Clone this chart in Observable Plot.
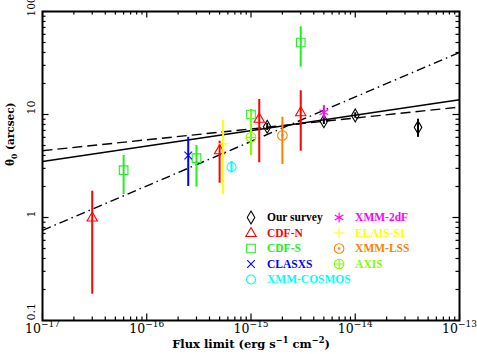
<!DOCTYPE html>
<html><head><meta charset="utf-8">
<script src="https://cdn.jsdelivr.net/npm/d3@7"></script>
<script src="https://cdn.jsdelivr.net/npm/@observablehq/plot@0.6"></script>
<style>html,body{margin:0;padding:0;background:#fff}svg{display:block}</style>
</head><body><div id="chart"></div>
<script>
// ---------- data ----------
const surveys = ["Our survey","CDF-N","CDF-S","CLASXS","XMM-COSMOS","XMM-2dF","ELAIS-S1","XMM-LSS","AXIS"];
const surveyColors = ["#000000","#ff0000","#22ee22","#0000ff","#00ffff","#ff00ff","#ffff00","#ff8000","#80ff00"];
const surveySymbols = ["diamond","triangle","square","xcross","circle","asterisk","plus","circledot","circleplus"];

// measurements: survey, flux limit, theta0, lower, upper
const ptSurvey = ["Our survey","Our survey","Our survey","Our survey",
  "CDF-N","CDF-N","CDF-N","CDF-N",
  "CDF-S","CDF-S","CDF-S","CDF-S",
  "CLASXS","XMM-COSMOS","XMM-2dF","ELAIS-S1","XMM-LSS","AXIS"];
const ptFlux  = [1.43e-15,5e-15,1e-14,4e-14, 3e-17,5e-16,1.2e-15,3e-15, 6e-17,3e-16,1e-15,3e-15, 2.5e-16,6.5e-16,5e-15,5.4e-16,2e-15,1e-15];
const ptTheta = [7.6,8.6,9.8,7.5, 1.0,4.5,9.1,10.5, 2.88,3.77,10,50, 4.0,3.1,10.5,5.2,6.25,6.0];
const ptLo    = [7.0,8.0,9.2,6.0, 0.18,2.15,3.4,4.4, 1.67,1.97,8.6,28.8, 2.0,2.7,9.1,1.67,3.27,4.0];
const ptHi    = [8.2,9.2,10.4,9.0, 1.8,5.5,14,17, 4.0,5.0,11.2,71, 6.0,3.5,12.2,8.75,9.4,10.9];

// fitted relations (values at the two ends of the flux range)
const fitStyle = ["solid","dashed","dashdot"];
const fitFluxStart = [1e-17,1e-17,1e-17];
const fitFluxEnd   = [1e-13,1e-13,1e-13];
const fitThetaStart = [3.5,4.45,0.75];
const fitThetaEnd   = [13.9,11.8,40];

// axes
const xMajor = [1e-17,1e-16,1e-15,1e-14,1e-13];
const xTickLabels = ["10^{−17}","10^{−16}","10^{−15}","10^{−14}","10^{−13}"];
const yMajor = [0.1,1,10,100];
const yTickLabels = ["0.1","1","10","100"];
const xTitle = "Flux limit (erg s^{−1} cm^{−2})";
const yTitle = "θ_{0} (arcsec)";

// ---------- layout ----------
const W = 477, H = 354, mL = 42, mR = 18, mT = 11, mB = 34;
const pw = W - mL - mR, ph = H - mT - mB;

const minorOf = (majors) => {
  const out = [];
  for (let i = 0; i < majors.length - 1; i++) for (let k = 2; k <= 9; k++) out.push(majors[i] * k);
  return out;
};
const xMinor = minorOf(xMajor), yMinor = minorOf(yMajor);

// ---------- symbols ----------
const S = {
  diamond: {draw(c){c.moveTo(0,-6.5);c.lineTo(3.8,0);c.lineTo(0,6.5);c.lineTo(-3.8,0);c.closePath();}},
  triangle: {draw(c){c.moveTo(0,-5.5);c.lineTo(5.2,3.5);c.lineTo(-5.2,3.5);c.closePath();}},
  square: {draw(c){c.rect(-4.3,-4.3,8.6,8.6);}},
  xcross: {draw(c){c.moveTo(-3.8,-3.8);c.lineTo(3.8,3.8);c.moveTo(3.8,-3.8);c.lineTo(-3.8,3.8);}},
  circle: {draw(c){c.moveTo(4.5,0);c.arc(0,0,4.5,0,2*Math.PI);}},
  asterisk: {draw(c){const r=5;for(const a of [90,30,150]){const t=a*Math.PI/180;c.moveTo(r*Math.cos(t),-r*Math.sin(t));c.lineTo(-r*Math.cos(t),r*Math.sin(t));}}},
  plus: {draw(c){c.moveTo(-5.5,0);c.lineTo(5.5,0);c.moveTo(0,-5.5);c.lineTo(0,5.5);}},
  circledot: {draw(c){c.moveTo(4.8,0);c.arc(0,0,4.8,0,2*Math.PI);c.moveTo(0.8,0);c.arc(0,0,0.8,0,2*Math.PI);}},
  circleplus: {draw(c){c.moveTo(4.8,0);c.arc(0,0,4.8,0,2*Math.PI);c.moveTo(-4.8,0);c.lineTo(4.8,0);c.moveTo(0,-4.8);c.lineTo(0,4.8);}}
};
const colorOf = s => surveyColors[surveys.indexOf(s)];
const symOf = s => S[surveySymbols[surveys.indexOf(s)]];

const points = ptSurvey.map((s,i)=>({s, x:ptFlux[i], y:ptTheta[i], lo:ptLo[i], hi:ptHi[i]}));
const fits = fitStyle.map((st,i)=>({st, x1:fitFluxStart[i], x2:fitFluxEnd[i], y1:fitThetaStart[i], y2:fitThetaEnd[i]}));
const dashes = {solid:null, dashed:"10,5", dashdot:"9,4,1.5,4"};

const marks = [];
// fit lines
for (const f of fits) {
  marks.push(Plot.link([f], {x1:"x1", y1:"y1", x2:"x2", y2:"y2", stroke:"black", strokeWidth:1.4,
    strokeDasharray: dashes[f.st]}));
}
// error bars and symbols
for (const s of surveys) {
  const d = points.filter(p=>p.s===s);
  if (!d.length) continue;
  marks.push(Plot.ruleX(d, {x:"x", y1:"lo", y2:"hi", stroke:colorOf(s), strokeWidth:2}));
  marks.push(Plot.dot(d, {x:"x", y:"y", symbol:symOf(s), stroke:colorOf(s), fill:"none", strokeWidth:1.1}));
}
// legend (inside the frame, lower right)
const legX = [1e-15, 7e-15], legY = 1, rowH = 15.5;
surveys.forEach((s,i)=>{
  const col = i < 5 ? 0 : 1, row = i < 5 ? i : i - 5;
  marks.push(Plot.dot([s], {x:()=>legX[col], y:()=>legY, dy:row*rowH, symbol:symOf(s), stroke:colorOf(s), fill:"none", strokeWidth:1.1}));
  marks.push(Plot.text([s], {x:()=>legX[col], y:()=>legY, dx:16, dy:row*rowH, text:d=>d, fill:colorOf(s),
    textAnchor:"start", fontWeight:"bold", fontSize:11.5, fontFamily:"'Liberation Serif', serif"}));
});
// inward ticks on all sides
const tk = (len) => ph - len, tkw = (len) => pw - len;
marks.push(Plot.tickX(xMajor, {x:d=>d, insetTop:tk(6.5), stroke:"black", strokeWidth:1.2}));
marks.push(Plot.tickX(xMinor, {x:d=>d, insetTop:tk(3.5), stroke:"black", strokeWidth:1.2}));
marks.push(Plot.tickX(xMajor, {x:d=>d, insetBottom:tk(6.5), stroke:"black", strokeWidth:1.2}));
marks.push(Plot.tickX(xMinor, {x:d=>d, insetBottom:tk(3.5), stroke:"black", strokeWidth:1.2}));
marks.push(Plot.tickY(yMajor, {y:d=>d, insetRight:tkw(6.5), stroke:"black", strokeWidth:1.2}));
marks.push(Plot.tickY(yMinor, {y:d=>d, insetRight:tkw(3.5), stroke:"black", strokeWidth:1.2}));
marks.push(Plot.tickY(yMajor, {y:d=>d, insetLeft:tkw(6.5), stroke:"black", strokeWidth:1.2}));
marks.push(Plot.tickY(yMinor, {y:d=>d, insetLeft:tkw(3.5), stroke:"black", strokeWidth:1.2}));
marks.push(Plot.frame({stroke:"black", strokeWidth:2}));
// tick labels
marks.push(Plot.text(xMajor, {x:d=>d, text:(d,i)=>xTickLabels[i], frameAnchor:"bottom", dy:12, fontSize:12.5,
  fontFamily:"'DejaVu Serif', serif", fill:"black"}));
const yLab = yMajor.map((v,i)=>({v, t:yTickLabels[i]}));
marks.push(Plot.text(yLab.filter(d=>d.v<100), {y:"v", text:"t", frameAnchor:"left", dx:-11, rotate:-90, fontSize:11,
  fontFamily:"'DejaVu Serif', serif", fill:"black"}));
marks.push(Plot.text(yLab.filter(d=>d.v>=100), {y:"v", text:"t", frameAnchor:"left", dx:-11, dy:5, rotate:-90, fontSize:10.5,
  fontFamily:"'DejaVu Serif', serif", fill:"black"}));
// axis titles
marks.push(Plot.text([xTitle], {text:d=>d, frameAnchor:"bottom", dy:27, fontSize:11.5, fontWeight:"bold",
  fontFamily:"'DejaVu Serif', serif", fill:"black"}));
marks.push(Plot.text([yTitle], {text:d=>d, frameAnchor:"left", dx:-32, rotate:-90, fontSize:10.5, fontWeight:"bold",
  fontFamily:"'DejaVu Serif', serif", fill:"black"}));

const chart = Plot.plot({
  width: W, height: H, marginLeft: mL, marginRight: mR, marginTop: mT, marginBottom: mB,
  x: {type:"log", domain:[1e-17,1e-13], axis:null},
  y: {type:"log", domain:[0.1,100], axis:null},
  style: {background:"#fff", overflow:"visible"},
  marks
});

// render ^{..} and _{..} as super/subscripts
function richify(el){
  const s = el.textContent;
  if (!/[\^_]\{/.test(s)) return;
  const fs = parseFloat(getComputedStyle(el).fontSize) || 12;
  const small = fs * 0.72, sh = fs * 0.42;
  while (el.firstChild) el.removeChild(el.firstChild);
  const re = /([\^_])\{([^}]*)\}|([^\^_]+)/g;
  let m, offset = 0;
  const NS = "http://www.w3.org/2000/svg";
  while ((m = re.exec(s))) {
    const t = document.createElementNS(NS, "tspan");
    if (m[1]) {
      const target = m[1] === "^" ? -sh : sh * 0.6;
      t.setAttribute("dy", target - offset); offset = target;
      t.setAttribute("font-size", small);
      t.textContent = m[2];
    } else {
      t.setAttribute("dy", -offset); offset = 0;
      t.textContent = m[3];
    }
    el.appendChild(t);
  }
}
document.getElementById("chart").appendChild(chart);
chart.querySelectorAll("text").forEach(t => {
  const kids = t.querySelectorAll("tspan");
  if (kids.length) kids.forEach(richify); else richify(t);
});
</script></body></html>
